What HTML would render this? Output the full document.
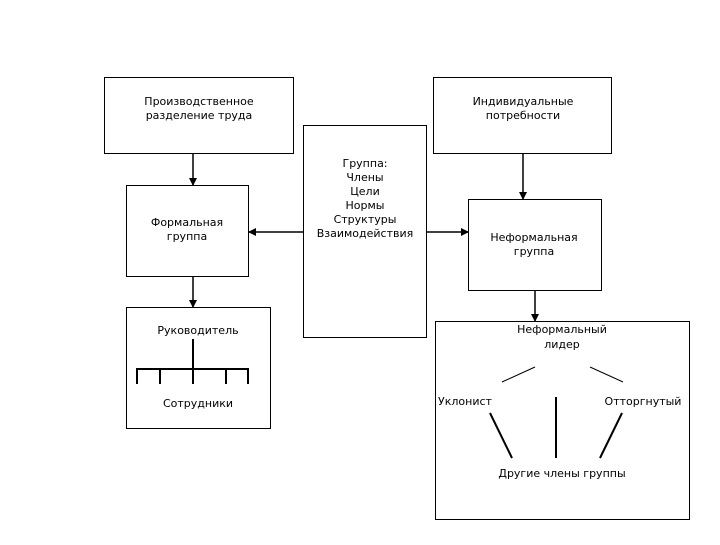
<!DOCTYPE html>
<html><head><meta charset="utf-8"><style>
body{margin:0;background:#fff;}
svg text{font-family:"DejaVu Sans","Liberation Sans",sans-serif;font-size:11px;fill:#000;text-anchor:middle;}
</style></head><body>
<svg width="720" height="540" xmlns="http://www.w3.org/2000/svg">
<defs><marker id="a" markerWidth="8" markerHeight="8" refX="7" refY="4" orient="auto" markerUnits="userSpaceOnUse"><path d="M0,0 L8,4 L0,8z" fill="#000"/></marker></defs>
<g fill="none" stroke="#000" stroke-width="1">
<rect x="104.5" y="77.5" width="189" height="76"/>
<rect x="433.5" y="77.5" width="178" height="76"/>
<rect x="303.5" y="125.5" width="123" height="212"/>
<rect x="126.5" y="185.5" width="122" height="91"/>
<rect x="468.5" y="199.5" width="133" height="91"/>
<rect x="126.5" y="307.5" width="144" height="121"/>
<rect x="435.5" y="321.5" width="254" height="198"/>
</g>
<g stroke="#000" stroke-width="1.5" marker-end="url(#a)">
<line x1="193" y1="153" x2="193" y2="185"/>
<line x1="193" y1="276" x2="193" y2="307"/>
<line x1="303" y1="232" x2="249" y2="232"/>
<line x1="426" y1="232" x2="468" y2="232"/>
<line x1="523" y1="153" x2="523" y2="199"/>
<line x1="535" y1="290" x2="535" y2="321"/>
</g>
<g stroke="#000" stroke-width="2" fill="none">
<line x1="193" y1="339" x2="193" y2="369"/>
<polyline points="137,384 137,369 248,369 248,384"/>
<line x1="160" y1="369" x2="160" y2="384"/>
<line x1="193" y1="369" x2="193" y2="384"/>
<line x1="226" y1="369" x2="226" y2="384"/>
<line x1="490" y1="413" x2="512" y2="458"/>
<line x1="556" y1="397" x2="556" y2="458"/>
<line x1="622" y1="413" x2="600" y2="458"/>
</g>
<g stroke="#000" stroke-width="1">
<line x1="502" y1="382" x2="535" y2="367"/>
<line x1="590" y1="367" x2="623" y2="382"/>
</g>
<text x="199" y="105">Производственное</text>
<text x="199" y="119">разделение труда</text>
<text x="523" y="105">Индивидуальные</text>
<text x="523" y="119">потребности</text>
<text x="365" y="167">Группа:</text>
<text x="365" y="181">Члены</text>
<text x="365" y="195">Цели</text>
<text x="365" y="209">Нормы</text>
<text x="365" y="223">Структуры</text>
<text x="365" y="237">Взаимодействия</text>
<text x="187" y="226">Формальная</text>
<text x="187" y="240">группа</text>
<text x="534" y="241">Неформальная</text>
<text x="534" y="255">группа</text>
<text x="198" y="334">Руководитель</text>
<text x="198" y="407">Сотрудники</text>
<text x="562" y="333">Неформальный</text>
<text x="562" y="348">лидер</text>
<text x="465" y="405">Уклонист</text>
<text x="643" y="405">Отторгнутый</text>
<text x="562" y="477">Другие члены группы</text>
</svg>
</body></html>
